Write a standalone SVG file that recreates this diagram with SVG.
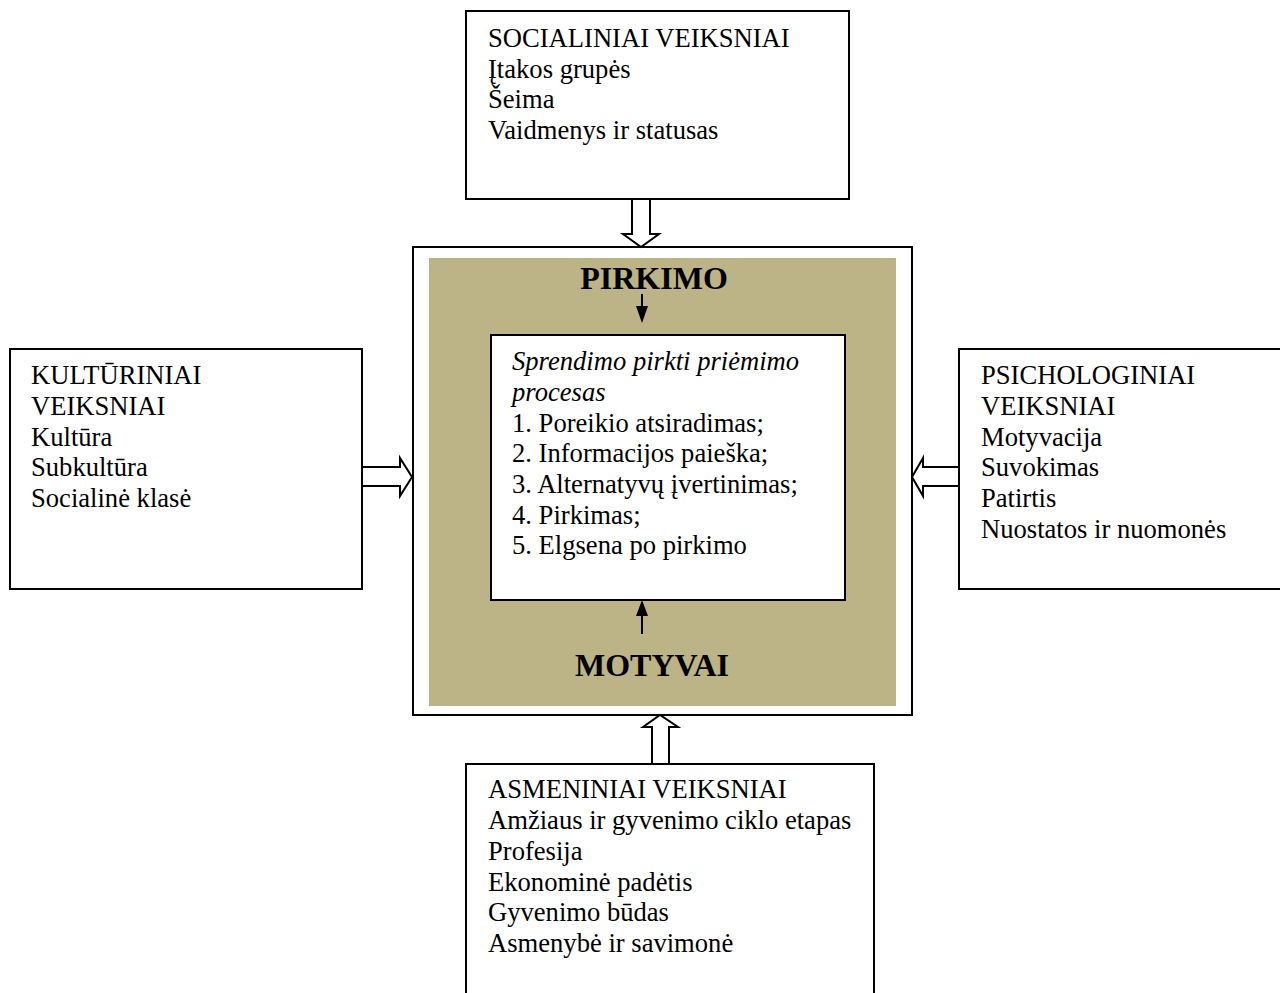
<svg xmlns="http://www.w3.org/2000/svg" width="1280" height="993" viewBox="0 0 1280 993">
<defs>
<style>
.box{fill:#fff;stroke:#000;stroke-width:2}
.t{font-family:"Liberation Serif","Times New Roman",serif;font-size:26.6px;fill:#000}
.i{font-style:italic}
.b{font-family:"Liberation Serif","Times New Roman",serif;font-size:32px;font-weight:bold;fill:#000}
.blk{fill:#fff;stroke:#000;stroke-width:2;stroke-linejoin:miter}
</style>
</defs>
<rect width="1280" height="993" fill="#fff"/>
<g id="center">
<rect class="box" x="413" y="247" width="499" height="468"/>
<rect x="429" y="258" width="467" height="448" fill="#bcb386"/>
<text class="b" x="654" y="289" text-anchor="middle">PIRKIMO</text>
<text class="b" x="652" y="676" text-anchor="middle">MOTYVAI</text>
</g>
<g id="process">
<rect class="box" x="491" y="335" width="354" height="265"/>
<text class="t" x="512"><tspan class="i" y="370">Sprendimo pirkti priėmimo</tspan><tspan class="i" x="512" y="401">procesas</tspan><tspan x="512" y="432">1. Poreikio atsiradimas;</tspan><tspan x="512" y="462">2. Informacijos paieška;</tspan><tspan x="512" y="493">3. Alternatyvų įvertinimas;</tspan><tspan x="512" y="524">4. Pirkimas;</tspan><tspan x="512" y="554">5. Elgsena po pirkimo</tspan></text>
</g>
<g id="social">
<rect class="box" x="466" y="11" width="383" height="188"/>
<text class="t" x="488"><tspan y="47">SOCIALINIAI VEIKSNIAI</tspan><tspan x="488" y="78">Įtakos grupės</tspan><tspan x="488" y="108">Šeima</tspan><tspan x="488" y="139">Vaidmenys ir statusas</tspan></text>
</g>
<g id="cultural">
<rect class="box" x="10" y="349" width="352" height="240"/>
<text class="t" x="31"><tspan y="384">KULTŪRINIAI</tspan><tspan x="31" y="415">VEIKSNIAI</tspan><tspan x="31" y="446">Kultūra</tspan><tspan x="31" y="476">Subkultūra</tspan><tspan x="31" y="507">Socialinė klasė</tspan></text>
</g>
<g id="psych">
<rect class="box" x="959" y="349" width="330" height="240"/>
<text class="t" x="981"><tspan y="384">PSICHOLOGINIAI</tspan><tspan x="981" y="415">VEIKSNIAI</tspan><tspan x="981" y="446">Motyvacija</tspan><tspan x="981" y="476">Suvokimas</tspan><tspan x="981" y="507">Patirtis</tspan><tspan x="981" y="538">Nuostatos ir nuomonės</tspan></text>
</g>
<g id="personal">
<rect class="box" x="466" y="764" width="408" height="240"/>
<text class="t" x="488"><tspan y="798">ASMENINIAI VEIKSNIAI</tspan><tspan x="488" y="829">Amžiaus ir gyvenimo ciklo etapas</tspan><tspan x="488" y="860">Profesija</tspan><tspan x="488" y="891">Ekonominė padėtis</tspan><tspan x="488" y="921">Gyvenimo būdas</tspan><tspan x="488" y="952">Asmenybė ir savimonė</tspan></text>
</g>
<g id="connectors">
<polygon class="blk" points="632,199 650,199 650,234 659,234 641,247 623,234 632,234"/>
<polygon class="blk" points="362,467 400,467 400,458 412,477 400,496 400,486 362,486"/>
<polygon class="blk" points="959,467 923,467 923,458 912,477 923,496 923,486 959,486"/>
<polygon class="blk" points="652,764 669,764 669,727 678,727 660,715 643,727 652,727"/>
<line x1="642" y1="294" x2="642" y2="308" stroke="#000" stroke-width="2"/>
<polygon points="636,306 648,306 642,323" fill="#000"/>
<line x1="642" y1="615" x2="642" y2="634" stroke="#000" stroke-width="2"/>
<polygon points="636,616 648,616 642,600" fill="#000"/>
</g>
</svg>
